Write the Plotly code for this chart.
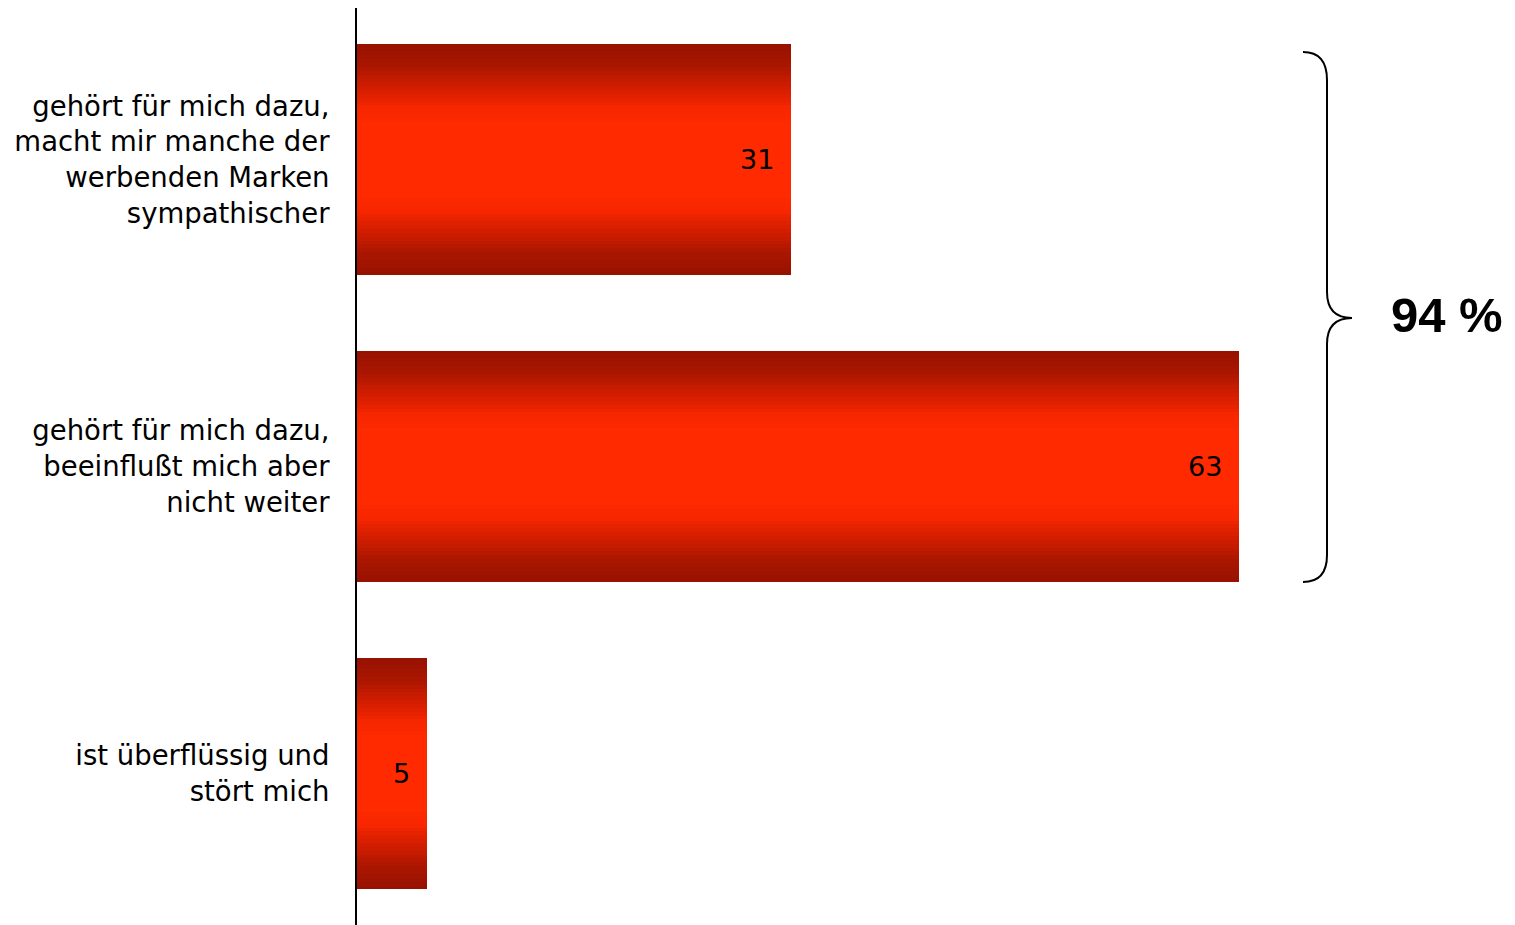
import plotly.graph_objects as go

categories = [
    "gehört für mich dazu,<br>macht mir manche der<br>werbenden Marken<br>sympathischer",
    "gehört für mich dazu,<br>beeinflußt mich aber<br>nicht weiter",
    "ist überflüssig und<br>stört mich",
]
values = [31, 63, 5]
bracket_label = "94 %"

positions = list(range(len(categories)))

BAR_W = 0.755
N_LAYERS = 30
stops = [
    (0.00, (152, 18, 0)),
    (0.08, (168, 22, 0)),
    (0.17, (205, 28, 0)),
    (0.27, (246, 38, 0)),
    (0.34, (255, 42, 0)),
    (0.50, (255, 42, 0)),
]


def grad_color(t):
    for (t0, c0), (t1, c1) in zip(stops[:-1], stops[1:]):
        if t <= t1:
            a = (t - t0) / (t1 - t0) if t1 > t0 else 0
            return "rgb(%d,%d,%d)" % tuple(round(c0[i] + a * (c1[i] - c0[i])) for i in range(3))
    return "rgb(%d,%d,%d)" % stops[-1][1]


fig = go.Figure()
for k in range(N_LAYERS):
    f = 1 - k / N_LAYERS
    t = (1 - f) / 2
    fig.add_trace(go.Bar(
        x=values, y=positions, orientation="h",
        width=BAR_W * f,
        marker=dict(color=grad_color(t), line=dict(width=0)),
        hoverinfo="skip", showlegend=False,
    ))

for v, p in zip(values, positions):
    fig.add_annotation(
        x=v, y=p, xref="x", yref="y", text=str(v), showarrow=False,
        xanchor="right", xshift=-15,
        font=dict(family="DejaVu Sans", size=27, color="black"),
    )

# figure geometry (page has an 8px body margin)
OFF = 8
W, H = 1507, 917
L, R, T, B = 349, 38, 0, 0
pw, ph = W - L - R, H - T - B


def px(sx):
    return (sx - OFF - L) / pw


def py(sy):
    return (H - B - (sy - OFF)) / ph


path = (
    f"M {px(1303)},{py(52)} Q {px(1327)},{py(52)} {px(1327)},{py(80)} "
    f"L {px(1327)},{py(292)} Q {px(1327)},{py(318)} {px(1352)},{py(318)} "
    f"Q {px(1327)},{py(318)} {px(1327)},{py(344)} "
    f"L {px(1327)},{py(555)} Q {px(1327)},{py(582)} {px(1303)},{py(582)}"
)
fig.add_shape(type="path", path=path, xref="paper", yref="paper",
              line=dict(color="black", width=2))

fig.add_annotation(
    x=px(1389), y=py(315), xref="paper", yref="paper", text=f"<b>{bracket_label}</b>",
    showarrow=False, xanchor="left", yanchor="middle",
    font=dict(family="Liberation Sans", size=49, color="black"),
)

fig.update_layout(
    width=W, height=H,
    margin=dict(l=L, r=R, t=T, b=B),
    barmode="overlay",
    bargap=0,
    plot_bgcolor="white", paper_bgcolor="white",
    xaxis=dict(range=[0, 80], visible=False, showgrid=False, zeroline=False),
    yaxis=dict(
        range=[2.4935, -0.4935],
        tickvals=positions, ticktext=categories,
        showline=True, linecolor="black", linewidth=2,
        showgrid=False, zeroline=False, ticks="",
        ticklabelstandoff=20,
        tickfont=dict(family="DejaVu Sans", size=27.5, color="black"),
    ),
)

fig.write_html("out.html")
